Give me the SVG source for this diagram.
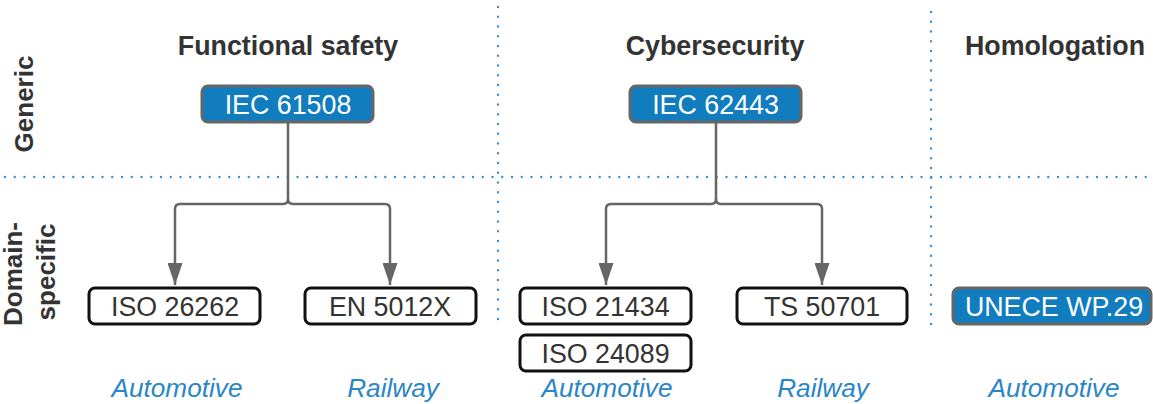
<svg xmlns="http://www.w3.org/2000/svg" width="1153" height="404" viewBox="0 0 1153 404">
  <style>
    .grid { fill: none; stroke: #3b8fcf; stroke-width: 2.4; stroke-linecap: round; stroke-dasharray: 0 9.75; }
    .head { font-family: "Liberation Sans", Arial, sans-serif; font-weight: bold; font-size: 26.8px; fill: #333333; text-anchor: middle; }
    .side { font-family: "Liberation Sans", Arial, sans-serif; font-weight: bold; font-size: 26px; fill: #333333; text-anchor: middle; }
    .std-blue rect { fill: #117dbf; stroke: #666666; stroke-width: 3; }
    .std-blue text { font-family: "Liberation Sans", Arial, sans-serif; font-size: 26.8px; fill: #ffffff; text-anchor: middle; }
    .std rect { fill: #ffffff; stroke: #111111; stroke-width: 3; }
    .std text { font-family: "Liberation Sans", Arial, sans-serif; font-size: 26.8px; fill: #333333; text-anchor: middle; }
    .domain { font-family: "Liberation Sans", Arial, sans-serif; font-style: italic; font-size: 26.2px; fill: #2a86c6; text-anchor: middle; }
    .link { fill: none; stroke: #666666; stroke-width: 2.5; }
  </style>
  <defs>
    <marker id="arrow" markerUnits="userSpaceOnUse" viewBox="0 0 22 15" refX="22" refY="7.5" markerWidth="22" markerHeight="15" orient="auto">
      <path d="M0,0 L22,7.5 L0,15 Z" fill="#666666"/>
    </marker>
  </defs>

  <!-- dotted grid separating columns and rows -->
  <g id="grid">
    <line class="grid" x1="5" y1="177" x2="1153" y2="177"/>
    <line class="grid" x1="498" y1="7" x2="498" y2="324"/>
    <line class="grid" x1="931" y1="12" x2="931" y2="330"/>
  </g>

  <!-- column and row headings -->
  <g id="headings">
    <text class="head" x="288" y="55">Functional safety</text>
    <text class="head" x="715" y="55">Cybersecurity</text>
    <text class="head" x="1055" y="55">Homologation</text>
    <text class="side" transform="translate(33,104) rotate(-90)">Generic</text>
    <text class="side" transform="translate(22,274) rotate(-90)">Domain-</text>
    <text class="side" transform="translate(55,272) rotate(-90)">specific</text>
  </g>

  <!-- connectors -->
  <g id="connectors">
    <path class="link" d="M288,123 V199 Q288,204 283,204 H180 Q175,204 175,209 V285" marker-end="url(#arrow)"/>
    <path class="link" d="M288,199 Q288,204 293,204 H385 Q390,204 390,209 V285" marker-end="url(#arrow)"/>
    <path class="link" d="M716,123 V199 Q716,204 711,204 H611 Q606,204 606,209 V285" marker-end="url(#arrow)"/>
    <path class="link" d="M716,199 Q716,204 721,204 H817 Q822,204 822,209 V285" marker-end="url(#arrow)"/>
  </g>

  <!-- generic standards -->
  <g id="iec61508" class="std-blue">
    <rect x="202" y="86" width="171" height="36" rx="6"/>
    <text x="288" y="113.5">IEC 61508</text>
  </g>
  <g id="iec62443" class="std-blue">
    <rect x="630" y="86" width="171" height="36" rx="6"/>
    <text x="715.5" y="113.5">IEC 62443</text>
  </g>

  <!-- domain-specific standards -->
  <g id="iso26262" class="std">
    <rect x="89" y="288" width="171" height="36" rx="6"/>
    <text x="175" y="315.5">ISO 26262</text>
  </g>
  <g id="en5012x" class="std">
    <rect x="305" y="288" width="171" height="36" rx="6"/>
    <text x="390" y="315.5">EN 5012X</text>
  </g>
  <g id="iso21434" class="std">
    <rect x="520" y="288" width="171" height="36" rx="6"/>
    <text x="605.5" y="315.5">ISO 21434</text>
  </g>
  <g id="iso24089" class="std">
    <rect x="520" y="335" width="171" height="36" rx="6"/>
    <text x="605.5" y="362.5">ISO 24089</text>
  </g>
  <g id="ts50701" class="std">
    <rect x="737" y="288" width="170" height="36" rx="6"/>
    <text x="822" y="315.5">TS 50701</text>
  </g>
  <g id="unece-wp29" class="std-blue">
    <rect x="953" y="288" width="198" height="36" rx="6"/>
    <text x="1054" y="315.5">UNECE WP.29</text>
  </g>

  <!-- application domains -->
  <g id="domains">
    <text class="domain" x="177" y="397">Automotive</text>
    <text class="domain" x="393" y="397">Railway</text>
    <text class="domain" x="607" y="397">Automotive</text>
    <text class="domain" x="823" y="397">Railway</text>
    <text class="domain" x="1054" y="397">Automotive</text>
  </g>
</svg>
